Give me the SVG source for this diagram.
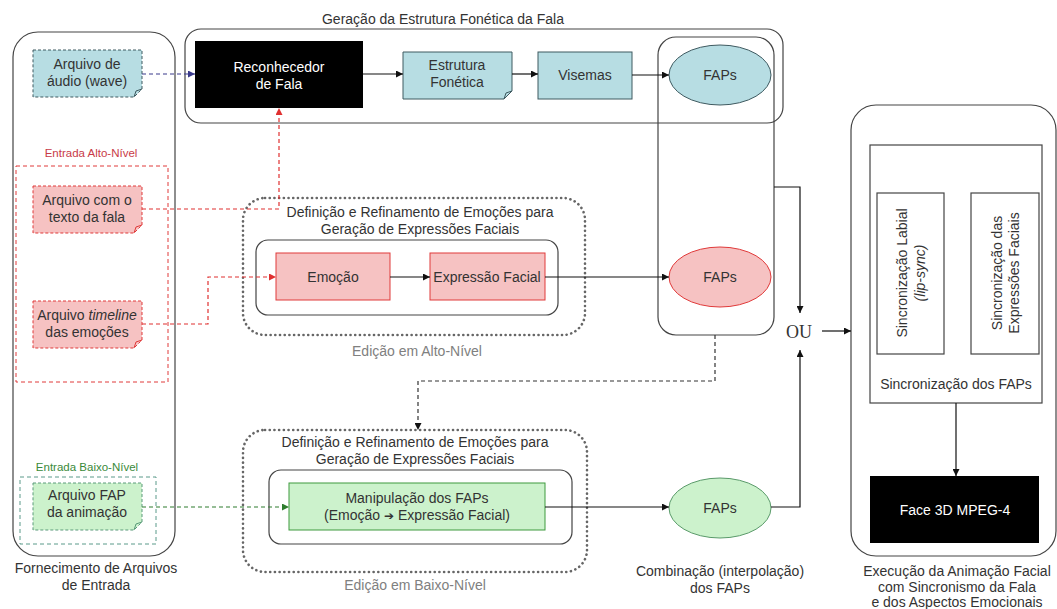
<svg xmlns="http://www.w3.org/2000/svg" width="1057" height="609" viewBox="0 0 1057 609">
<defs>
<style>
text{font-family:"Liberation Sans",Arial,sans-serif;font-size:14px;fill:#333;text-anchor:middle}
.w{fill:#fff}
.g{fill:#808080}
.lbl{font-size:11.5px}
.frame{fill:none;stroke:#444;stroke-width:1.2}
.dot{fill:none;stroke:#666;stroke-width:2.6;stroke-dasharray:0.1 4.6;stroke-linecap:round}
.blue{fill:#b7dde3;stroke:#3f5a60;stroke-width:1}
.red{fill:#f6c2c2;stroke:#e03a3a;stroke-width:1}
.green{fill:#ccf2cc;stroke:#3e9a3e;stroke-width:1}
.blk{fill:#000}
.c{fill:none;stroke:#111;stroke-width:1.2}
.cb{fill:none;stroke:#3a3a8c;stroke-width:1.2;stroke-dasharray:4 3}
.cr{fill:none;stroke:#e03030;stroke-width:1.2;stroke-dasharray:4 3}
.cg{fill:none;stroke:#2e7d2e;stroke-width:1.2;stroke-dasharray:4 3}
.ck{fill:none;stroke:#333;stroke-width:1.2;stroke-dasharray:4 3}
</style>
<marker id="ak" viewBox="0 0 10 10" refX="10" refY="5" markerWidth="8" markerHeight="7" markerUnits="userSpaceOnUse" orient="auto"><path d="M0,0L10,5L0,10z" fill="#111"/></marker>
<marker id="ab" viewBox="0 0 10 10" refX="10" refY="5" markerWidth="8" markerHeight="7" markerUnits="userSpaceOnUse" orient="auto"><path d="M0,0L10,5L0,10z" fill="#3a3a8c"/></marker>
<marker id="ar" viewBox="0 0 10 10" refX="10" refY="5" markerWidth="8" markerHeight="7" markerUnits="userSpaceOnUse" orient="auto"><path d="M0,0L10,5L0,10z" fill="#e03030"/></marker>
<marker id="ag" viewBox="0 0 10 10" refX="10" refY="5" markerWidth="8" markerHeight="7" markerUnits="userSpaceOnUse" orient="auto"><path d="M0,0L10,5L0,10z" fill="#2e7d2e"/></marker>
</defs>
<rect width="1057" height="609" fill="#fff"/>

<g id="input-container">
<rect class="frame" x="13" y="32" width="162" height="524" rx="25"/>
<text x="96" y="573">Fornecimento de Arquivos</text>
<text x="96" y="590">de Entrada</text>
</g>

<g id="audio-file">
<path d="M33,50H142V89L134,97H33Z" fill="#b7dde3" stroke="#3f5a60" stroke-dasharray="3 2"/>
<path d="M134,97L136,91L142,89" fill="none" stroke="#3f5a60"/>
<text x="87" y="69">Arquivo de</text>
<text x="87" y="86">áudio (wave)</text>
</g>

<g id="high-level-input">
<rect x="16" y="166" width="152" height="216" fill="none" stroke="#e03a3a" stroke-dasharray="4 3"/>
<text class="lbl" x="91" y="157" style="fill:#c83a48">Entrada Alto-Nível</text>
</g>

<g id="text-file">
<path d="M33,186H142V225L134,233H33Z" fill="#f6c2c2" stroke="#e03a3a" stroke-dasharray="3 2"/>
<path d="M134,233L136,227L142,225" fill="none" stroke="#e03a3a"/>
<text x="87" y="205">Arquivo com o</text>
<text x="87" y="222">texto da fala</text>
</g>

<g id="timeline-file">
<path d="M33,301H142V340L134,348H33Z" fill="#f6c2c2" stroke="#e03a3a" stroke-dasharray="3 2"/>
<path d="M134,348L136,342L142,340" fill="none" stroke="#e03a3a"/>
<text x="87" y="320">Arquivo <tspan font-style="italic">timeline</tspan></text>
<text x="87" y="337">das emoções</text>
</g>

<g id="low-level-input">
<rect x="20" y="477" width="136" height="67" fill="none" stroke="#5a9a8a" stroke-dasharray="4 3"/>
<text class="lbl" x="87" y="471" style="fill:#3a8a3a">Entrada Baixo-Nível</text>
</g>

<g id="fap-file">
<path d="M33,483H142V522L134,530H33Z" fill="#ccf2cc" stroke="#5a9a7a" stroke-dasharray="3 2"/>
<path d="M134,530L136,524L142,522" fill="none" stroke="#5a9a7a"/>
<text x="87" y="500">Arquivo FAP</text>
<text x="87" y="517">da animação</text>
</g>

<g id="phonetic-container">
<rect class="frame" x="185" y="29" width="598" height="94" rx="16"/>
<text x="443" y="24">Geração da Estrutura Fonética da Fala</text>
</g>

<g id="speech-recognizer">
<rect class="blk" x="195" y="41" width="168" height="67"/>
<text class="w" x="279" y="72">Reconhecedor</text>
<text class="w" x="279" y="89">de Fala</text>
</g>

<g id="phonetic-structure">
<path d="M403,52H512V91L504,99H403Z" class="blue"/>
<path d="M504,99L506,93L512,91" fill="none" stroke="#3f5a60"/>
<text x="457" y="70">Estrutura</text>
<text x="457" y="87">Fonética</text>
</g>

<g id="visemes">
<rect class="blue" x="538" y="52" width="94" height="47"/>
<text x="585" y="80">Visemas</text>
</g>

<g id="faps-column">
<rect class="frame" x="658" y="37" width="116" height="298" rx="18"/>
</g>

<g id="faps-speech">
<ellipse class="blue" cx="720" cy="75" rx="51" ry="30"/>
<text x="720" y="80">FAPs</text>
</g>

<g id="faps-emotion">
<ellipse class="red" cx="720" cy="277" rx="51" ry="30"/>
<text x="720" y="282">FAPs</text>
</g>

<g id="high-level-edit">
<rect class="dot" x="243" y="198" width="342" height="137" rx="22"/>
<text x="420" y="217">Definição e Refinamento de Emoções para</text>
<text x="420" y="234">Geração de Expressões Faciais</text>
<rect class="frame" x="256" y="240" width="302" height="75" rx="12"/>
<text class="g" x="417" y="356">Edição em Alto-Nível</text>
</g>

<g id="emotion">
<rect class="red" x="276" y="253" width="114" height="47"/>
<text x="333" y="282">Emoção</text>
</g>

<g id="facial-expression">
<rect class="red" x="430" y="253" width="115" height="47"/>
<text x="487" y="282">Expressão Facial</text>
</g>

<g id="low-level-edit">
<rect class="dot" x="243" y="430" width="344" height="142" rx="22"/>
<text x="415" y="447">Definição e Refinamento de Emoções para</text>
<text x="415" y="464">Geração de Expressões Faciais</text>
<rect class="frame" x="269" y="470" width="303" height="74" rx="12"/>
<text class="g" x="415" y="590">Edição em Baixo-Nível</text>
</g>

<g id="fap-manipulation">
<rect class="green" x="289" y="483" width="256" height="47"/>
<text x="417" y="503">Manipulação dos FAPs</text>
<text x="417" y="520">(Emoção <tspan style="font-family:'DejaVu Sans',sans-serif;font-size:12px">➔</tspan> Expressão Facial)</text>
</g>

<g id="faps-low">
<ellipse cx="720" cy="508" rx="51" ry="30" fill="#ccf2cc" stroke="#5a9a6a"/>
<text x="720" y="513">FAPs</text>
<text x="720" y="576">Combinação (interpolação)</text>
<text x="720" y="593">dos FAPs</text>
</g>

<g id="or">
<text x="799" y="338" style="font-family:'Liberation Serif','Times New Roman',serif;font-size:18px">OU</text>
</g>

<g id="execution-container">
<rect class="frame" x="851" y="105" width="205" height="451" rx="25"/>
<text x="957" y="576">Execução da Animação Facial</text>
<text x="957" y="592">com Sincronismo da Fala</text>
<text x="957" y="607">e dos Aspectos Emocionais</text>
</g>

<g id="fap-sync">
<rect class="frame" x="870" y="145" width="172" height="258"/>
<text x="956" y="389">Sincronização dos FAPs</text>
</g>

<g id="lip-sync">
<rect class="frame" x="877" y="193" width="67" height="161"/>
<text transform="translate(907,273) rotate(-90)" x="0" y="0">Sincronização Labial</text>
<text transform="translate(925,273) rotate(-90)" x="0" y="0" font-style="italic">(lip-sync)</text>
</g>

<g id="expression-sync">
<rect class="frame" x="971" y="193" width="68" height="161"/>
<text transform="translate(1002,273) rotate(-90)" x="0" y="0">Sincronização das</text>
<text transform="translate(1019,273) rotate(-90)" x="0" y="0">Expressões Faciais</text>
</g>

<g id="face3d">
<rect class="blk" x="870" y="476" width="169" height="67"/>
<text class="w" x="955" y="515">Face 3D MPEG-4</text>
</g>

<g id="connectors">
<path class="cb" d="M142,74H195" marker-end="url(#ab)"/>
<path class="c" d="M363,74H403" marker-end="url(#ak)"/>
<path class="c" d="M512,74H538" marker-end="url(#ak)"/>
<path class="c" d="M632,75H669" marker-end="url(#ak)"/>
<path class="cr" d="M142,209H279V108" marker-end="url(#ar)"/>
<path class="cr" d="M142,324H208V277H276" marker-end="url(#ar)"/>
<path class="c" d="M390,277H430" marker-end="url(#ak)"/>
<path class="c" d="M545,277H669" marker-end="url(#ak)"/>
<path class="ck" d="M715,335V381H418V430" marker-end="url(#ak)"/>
<path class="cg" d="M142,507H289" marker-end="url(#ag)"/>
<path class="c" d="M545,507H669" marker-end="url(#ak)"/>
<path class="c" d="M774,187H800V313" marker-end="url(#ak)"/>
<path class="c" d="M771,507H800V350" marker-end="url(#ak)"/>
<path class="c" d="M822,331H851" marker-end="url(#ak)"/>
<path class="c" d="M956,403V476" marker-end="url(#ak)"/>
</g>
</svg>
